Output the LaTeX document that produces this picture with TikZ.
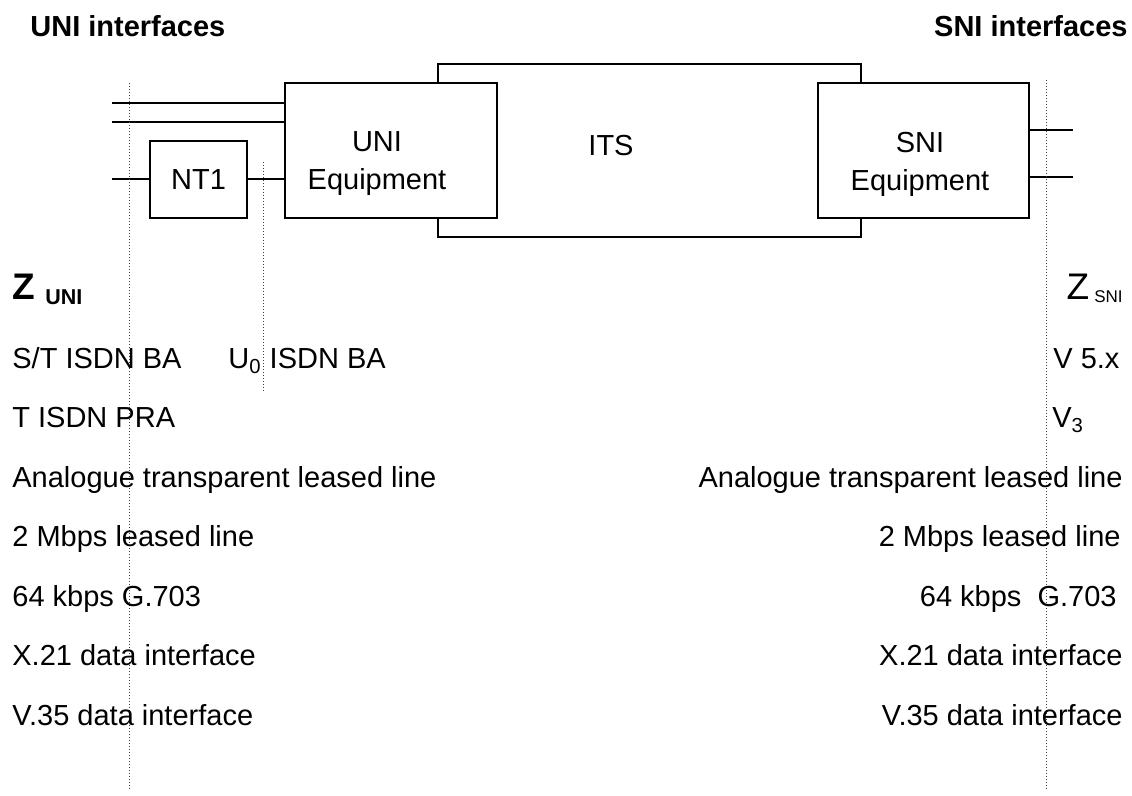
\documentclass[tikz,border=0pt]{standalone}
\usepackage{fontspec}
\setmainfont{Liberation Sans}
\usetikzlibrary{positioning}
\newcommand{\zsize}{\fontsize{18.5}{20}\selectfont}
\newcommand{\zsubuni}{\fontsize{10.75}{12}\selectfont}
\newcommand{\zsubsni}{\fontsize{8.5}{10}\selectfont}
\tikzset{
  eqbox/.style={draw, line width=1pt, fill=white, inner sep=0pt},
  wire/.style={line width=1pt},
  ifline/.style={densely dotted, line width=0.5pt, black!75},
  txt/.style={font=\fontsize{14.5}{19}\selectfont, inner sep=0pt},
  head/.style={txt, font=\fontsize{14.5}{19}\selectfont\bfseries},
  rowl/.style={txt, anchor=base west},
  rowr/.style={txt, anchor=base east},
}
\begin{document}
\begin{tikzpicture}[x=0.5pt,y=-0.5pt]
\useasboundingbox (0,0) rectangle (1132,796);
% Headings
\node[head, anchor=base west] (unihead) at (30,37) {UNI interfaces};
\node[head, anchor=base east] (snihead) at (1128,37) {SNI interfaces};

% Equipment boxes
\node[eqbox, minimum width=211.5pt, minimum height=86.5pt] (its) at (649.5,150.5) {};
\node[eqbox, minimum width=106pt, minimum height=67.5pt] (uni) at (391,150.5) {};
\node[eqbox, minimum width=105.5pt, minimum height=67.5pt] (sni) at (923.5,150.5) {};
\node[eqbox, minimum width=48.5pt, minimum height=38.5pt, txt] (nt1) at (198.5,179.5) {NT1};
\node[txt] (itstxt) at (611,146) {ITS};
\node[txt, align=center] (unitxt) at (377,164) {UNI\\Equipment};
\node[txt, align=center] (snitxt) at (920,164) {SNI\\Equipment};

% Lines
\coordinate (a1) at (112,103);
\coordinate (a2) at (112,122);
\coordinate (a3) at (112,179.5);
\draw[wire] (a1) -- (a1 -| uni.west);
\draw[wire] (a2) -- (a2 -| uni.west);
\draw[wire] (a3) -- (nt1.west);
\draw[wire] (nt1.east) -- (nt1.east -| uni.west);
\coordinate (b1) at (1073,130);
\coordinate (b2) at (1073,177);
\draw[wire] (b1 -| sni.east) -- (b1);
\draw[wire] (b2 -| sni.east) -- (b2);

% Reference points
\draw[ifline] (129,83) -- (129,790);
\draw[ifline] (263,162) -- (263,392);
\draw[ifline] (1046,80) -- (1046,790);

% UNI side
\node[anchor=base west, inner sep=0pt] (zuni) at (12,300) {\zsize\bfseries Z {\zsubuni\raisebox{-2.5pt}{UNI}}};
\node[rowl] (st) at (12,369) {S/T ISDN BA};
\node[rowl] (uzero) at (228,369) {U\textsubscript{0} ISDN BA};
\node[rowl] (tpra) at (12,428) {T ISDN PRA};
\node[rowl] (anl) at (12,488) {Analogue transparent leased line};
\node[rowl] (mbl) at (12,547) {2 Mbps leased line};
\node[rowl] (kbl) at (12,607) {64 kbps G.703};
\node[rowl] (xl) at (12,666) {X.21 data interface};
\node[rowl] (vl) at (12,726) {V.35 data interface};

% SNI side
\node[anchor=base east, inner sep=0pt] (zsni) at (1123,300) {\zsize Z\hspace{2.5pt}{\zsubsni\raisebox{-1.5pt}{SNI}}};
\node[rowl] (vfive) at (1053,369) {V 5.x};
\node[rowl] (vthree) at (1052,428) {V\textsubscript{3}};
\node[rowr] (anr) at (1123,488) {Analogue transparent leased line};
\node[rowr] (mbr) at (1121,547) {2 Mbps leased line};
\node[rowr] (kbr) at (1117,607) {64 kbps\ \ G.703};
\node[rowr] (xr) at (1123,666) {X.21 data interface};
\node[rowr] (vr) at (1123,726) {V.35 data interface};
\end{tikzpicture}
\end{document}
